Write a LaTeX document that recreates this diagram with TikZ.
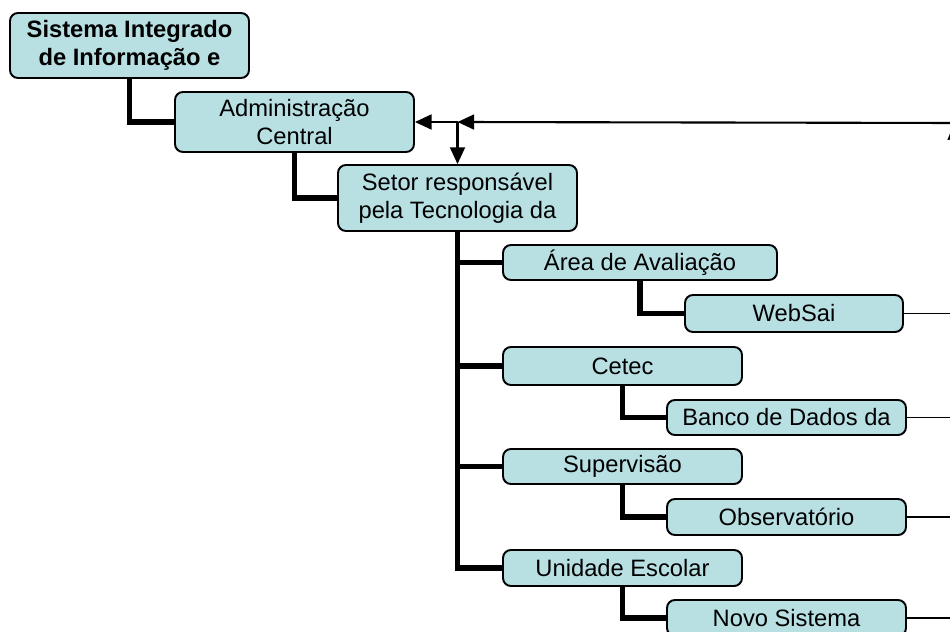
\documentclass[tikz,border=0pt]{standalone}
\usepackage{fontspec}
\setmainfont{Liberation Sans}
\usepackage{xcolor}
\usetikzlibrary{arrows.meta}
\definecolor{boxfill}{RGB}{184,224,227}

\begin{document}
\begin{tikzpicture}[x=0.02cm,y=-0.02cm]
\useasboundingbox (0,0) rectangle (950,632);

\tikzstyle{every node}=[font=\fontsize{13.5}{16}\selectfont]
\tikzstyle{orgbox}=[draw,line width=1.1pt,fill=boxfill,rounded corners=4.5pt,align=center,inner sep=0pt,minimum width=4.78cm]
\tikzstyle{trunk}=[line width=3.2pt]
\tikzstyle{feedline}=[line width=1.2pt,-{Triangle[length=9.5pt,width=8.5pt]}]
\tikzstyle{outline}=[line width=0.8pt]

% boxes
\node (sig) [orgbox,minimum height=1.30cm,font=\fontsize{13.5}{16}\selectfont\bfseries] at (129.5,45.5) {Sistema Integrado\\de Informação e};
\node (adm) [orgbox,minimum height=1.20cm] at (294.5,122) {Administração\\Central};
\node (setor) [orgbox,minimum height=1.32cm] at (457.5,198) {Setor responsável\\pela Tecnologia da};

\node (area) [orgbox,minimum width=5.48cm,minimum height=0.70cm] at (640,262.5) {Área de Avaliação};
\node (websai) [orgbox,minimum width=4.36cm,minimum height=0.74cm] at (794,313.5) {WebSai};
\node (cetec) [orgbox,minimum height=0.76cm] at (622.5,366) {Cetec};
\node (banco) [orgbox,minimum height=0.70cm] at (786.5,417.5) {Banco de Dados da};
\node (superv) [orgbox,minimum height=0.70cm] at (622.5,466.5) {Supervisão};
\node (obs) [orgbox,minimum height=0.72cm] at (786.5,517) {Observatório};
\node (unid) [orgbox,minimum height=0.72cm] at (622.5,568) {Unidade Escolar};
\node (novo) [orgbox,minimum height=0.72cm] at (786.5,618) {Novo Sistema};

% tree
\draw[trunk] (sig.south) |- (adm.west);
\draw[trunk] (adm.south) |- (setor.west);
\foreach \kid in {area,cetec,superv,unid}
  \draw[trunk] (setor.south) |- (\kid.west);
\draw[trunk] (area.south) |- (websai.west);
\draw[trunk] (cetec.south) |- (banco.west);
\draw[trunk] (superv.south) |- (obs.west);
\draw[trunk] (unid.south) |- (novo.west);

% lines to the right edge
\coordinate (rim) at (960,0);
\foreach \sys in {websai,banco,obs,novo}
  \draw[outline] (\sys.east) -- (\sys.east -| rim);

% incoming arrow
\coordinate (feed) at (960,123);
\coordinate (split) at (setor.north |- adm.east);
\draw[feedline] (feed) -- (split);
\draw[feedline] (split) -- (adm.east);
\draw[feedline] (split) -- (setor.north);
\node (lblA) [anchor=base west,inner sep=0pt] at (947,140) {A};
\end{tikzpicture}
\end{document}
